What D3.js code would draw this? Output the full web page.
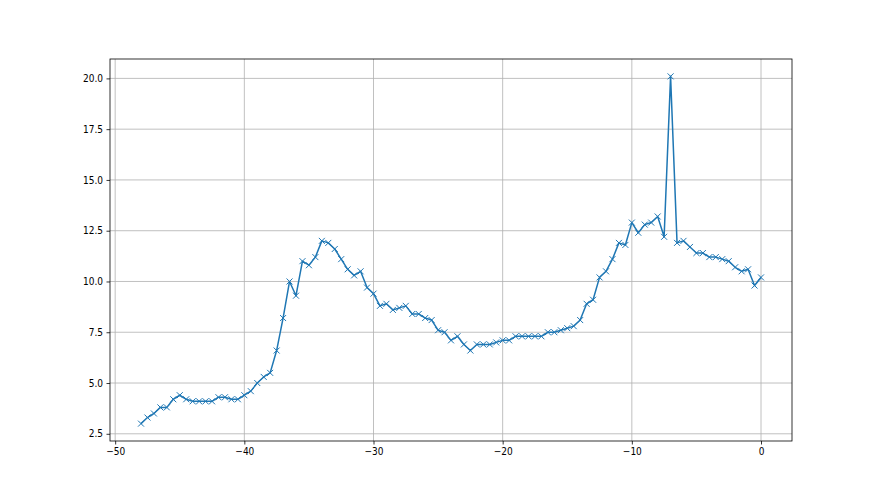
<!DOCTYPE html>
<html>
<head>
    <meta charset="utf-8">
    <script src="https://cdn.jsdelivr.net/npm/d3@7"></script>
    <style>
        body { margin: 0; background: #fff; }
        text { font-family: "DejaVu Sans Condensed", "DejaVu Sans", sans-serif; font-stretch: condensed; }
    </style>
</head>
<body>
<div id="chart"></div>
<script>

    var xValues = [-48, -47.5, -47, -46.5, -46, -45.5, -45, -44.5, -44, -43.5, -43, -42.5, -42, -41.5, -41, -40.5,
        -40, -39.5, -39, -38.5, -38, -37.5, -37, -36.5, -36, -35.5, -35, -34.5, -34, -33.5, -33, -32.5,
        -32, -31.5, -31, -30.5, -30, -29.5, -29, -28.5, -28, -27.5, -27, -26.5, -26, -25.5, -25, -24.5,
        -24, -23.5, -23, -22.5, -22, -21.5, -21, -20.5, -20, -19.5, -19, -18.5, -18, -17.5, -17, -16.5,
        -16, -15.5, -15, -14.5, -14, -13.5, -13, -12.5, -12, -11.5, -11, -10.5, -10, -9.5, -9, -8.5,
        -8, -7.5, -7, -6.5, -6, -5.5, -5, -4.5, -4, -3.5, -3, -2.5, -2, -1.5, -1, -0.5, 0];

    var yValues = [3.0, 3.3, 3.5, 3.8, 3.8, 4.2, 4.4, 4.2, 4.1, 4.1, 4.1, 4.1, 4.3, 4.3, 4.2, 4.2,
        4.4, 4.6, 5.0, 5.3, 5.5, 6.6, 8.2, 10.0, 9.3, 11.0, 10.8, 11.2, 12.0, 11.9, 11.6, 11.1,
        10.6, 10.3, 10.5, 9.7, 9.4, 8.8, 8.9, 8.6, 8.7, 8.8, 8.4, 8.4, 8.2, 8.1, 7.6, 7.5,
        7.1, 7.3, 6.9, 6.6, 6.9, 6.9, 6.9, 7.0, 7.1, 7.1, 7.3, 7.3, 7.3, 7.3, 7.3, 7.5,
        7.5, 7.6, 7.7, 7.8, 8.1, 8.9, 9.1, 10.2, 10.5, 11.1, 11.9, 11.8, 12.9, 12.4, 12.8, 12.9,
        13.2, 12.2, 20.1, 11.9, 12.0, 11.7, 11.4, 11.4, 11.2, 11.2, 11.1, 11.0, 10.7, 10.5, 10.6, 9.8, 10.2];

    var xTicks = [-50, -40, -30, -20, -10, 0];
    var yTicks = [2.5, 5.0, 7.5, 10.0, 12.5, 15.0, 17.5, 20.0];

    var points = xValues.map(function(x, i) { return { x: x, y: yValues[i] }; });

    var width = 880;
    var height = 495;
    var padding = { left: 110, right: 88, top: 59, bottom: 54 };
    var innerW = width - padding.left - padding.right;
    var innerH = height - padding.top - padding.bottom;

    // matplotlib style 5% margins around the data
    var xMin = d3.min(xValues), xMax = d3.max(xValues);
    var yMin = d3.min(yValues), yMax = d3.max(yValues);
    var xPad = (xMax - xMin) * 0.05, yPad = (yMax - yMin) * 0.05;

    var xScale = d3.scaleLinear()
        .domain([xMin - xPad, xMax + xPad])
        .range([0, innerW]);

    var yScale = d3.scaleLinear()
        .domain([yMin - yPad, yMax + yPad])
        .range([innerH, 0]);

    var color = '#1f77b4';

    var svg = d3.select('#chart').append('svg')
        .attr('width', width)
        .attr('height', height);

    var g = svg.append('g')
        .attr('transform', 'translate(' + padding.left + ', ' + padding.top + ')');

    // grid
    g.append('g').selectAll('line')
        .data(xTicks)
        .enter().append('line')
        .attr('x1', function(d) { return xScale(d); })
        .attr('x2', function(d) { return xScale(d); })
        .attr('y1', 0).attr('y2', innerH)
        .attr('stroke', '#b0b0b0').attr('stroke-width', 0.8);

    g.append('g').selectAll('line')
        .data(yTicks)
        .enter().append('line')
        .attr('y1', function(d) { return yScale(d); })
        .attr('y2', function(d) { return yScale(d); })
        .attr('x1', 0).attr('x2', innerW)
        .attr('stroke', '#b0b0b0').attr('stroke-width', 0.8);

    // the line
    var line = d3.line()
        .x(function(d) { return xScale(d.x); })
        .y(function(d) { return yScale(d.y); });

    g.append('path')
        .datum(points)
        .attr('d', line)
        .attr('fill', 'none')
        .attr('stroke', color)
        .attr('stroke-width', 1.5)
        .attr('stroke-linejoin', 'round');

    // x markers
    var m = 3;
    g.append('g').selectAll('path')
        .data(points)
        .enter().append('path')
        .attr('d', function(d) {
            var cx = xScale(d.x), cy = yScale(d.y);
            return 'M' + (cx - m) + ',' + (cy - m) + 'L' + (cx + m) + ',' + (cy + m) +
                'M' + (cx - m) + ',' + (cy + m) + 'L' + (cx + m) + ',' + (cy - m);
        })
        .attr('stroke', color)
        .attr('stroke-width', 1)
        .attr('fill', 'none');

    // axes
    var xAxis = d3.axisBottom(xScale).tickValues(xTicks).tickFormat(d3.format('d'))
        .tickSizeInner(3.5).tickSizeOuter(0).tickPadding(3.5);
    var yAxis = d3.axisLeft(yScale).tickValues(yTicks).tickFormat(d3.format('.1f'))
        .tickSizeInner(3.5).tickSizeOuter(0).tickPadding(3.5);

    var gx = g.append('g')
        .attr('transform', 'translate(0,' + innerH + ')')
        .call(xAxis);
    var gy = g.append('g').call(yAxis);

    [gx, gy].forEach(function(a) {
        a.select('.domain').remove();
        a.selectAll('.tick line').attr('stroke', '#000').attr('stroke-width', 0.8);
        a.selectAll('.tick text').attr('fill', '#000')
            .style('font-family', '"DejaVu Sans Condensed", "DejaVu Sans", sans-serif')
            .style('font-stretch', 'condensed')
            .style('font-size', '10px');
    });

    // frame (spines)
    g.append('rect')
        .attr('x', 0).attr('y', 0)
        .attr('width', innerW).attr('height', innerH)
        .attr('fill', 'none')
        .attr('stroke', '#000')
        .attr('stroke-width', 0.8);

</script>
</body>
</html>
